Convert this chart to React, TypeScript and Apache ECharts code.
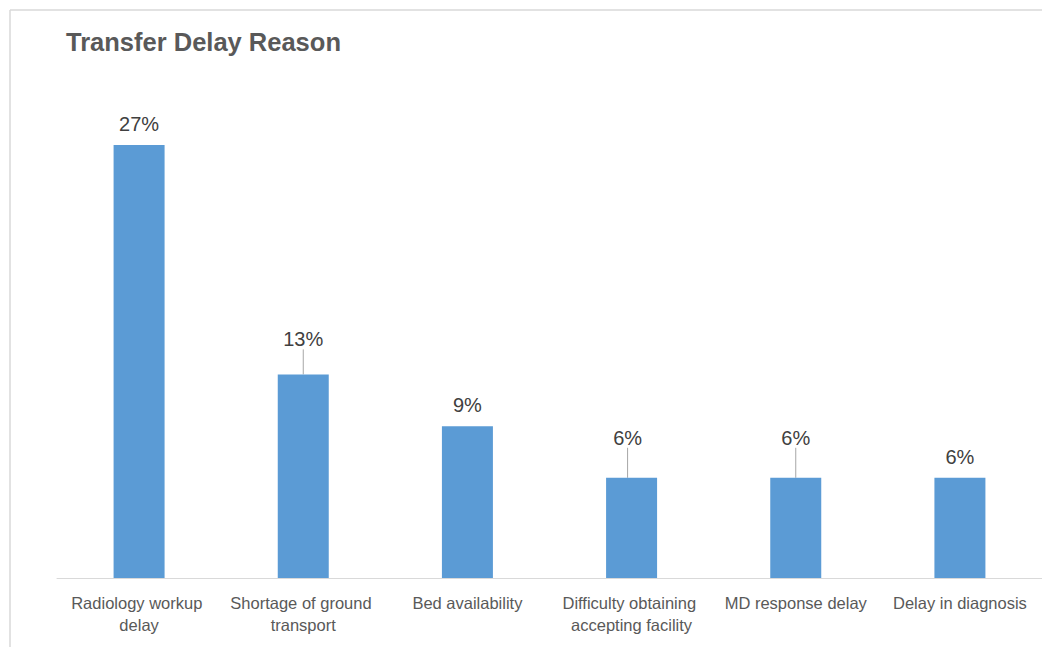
import React, { useEffect, useRef } from "react";
import * as echarts from "echarts";

const categories = [
  "Radiology workup delay",
  "Shortage of ground transport",
  "Bed availability",
  "Difficulty obtaining accepting facility",
  "MD response delay",
  "Delay in diagnosis",
];
const values = [27, 12.7, 9.46, 6.25, 6.25, 6.25];
const titleText = "Transfer Delay Reason";
// label shifts (Excel-style manually moved labels), in px
const labelShiftX = [0, 0, 0, -4, 0, 0];
const labelShiftY = [0, -14, 0, -19, -19, 0];

const FONT = "'Liberation Sans', Arial, sans-serif";

export default function App() {
  const ref = useRef<HTMLDivElement>(null);
  useEffect(() => {
    document.body.style.margin = "0";
    const chart = echarts.init(ref.current!, null, { renderer: "svg" });
    const seriesData = values.map((v, i) => ({
      value: v,
      labelLine: { show: labelShiftY[i] !== 0 },
    }));
    chart.setOption({
      animation: false,
      backgroundColor: "#ffffff",
      title: {
        text: titleText,
        left: 66,
        top: 29,
        padding: 0,
        textStyle: {
          fontFamily: FONT,
          fontSize: 25.5,
          fontWeight: "bold",
          color: "#595959",
        },
      },
      graphic: [
        {
          type: "line",
          shape: { x1: 10, y1: 10, x2: 1042, y2: 10 },
          style: { stroke: "#d9d9d9", lineWidth: 1.5 },
          silent: true,
        },
        {
          type: "line",
          shape: { x1: 10, y1: 10, x2: 10, y2: 647 },
          style: { stroke: "#d9d9d9", lineWidth: 1.5 },
          silent: true,
        },
      ],
      grid: { left: 57, top: 97, width: 987, height: 481 },
      xAxis: {
        type: "category",
        data: categories,
        axisLine: { show: true, lineStyle: { color: "#d9d9d9", width: 1 } },
        axisTick: { show: false },
        axisLabel: {
          interval: 0,
          margin: 14,
          fontFamily: FONT,
          fontSize: 16.5,
          color: "#595959",
          lineHeight: 22,
          width: 158,
          overflow: "break",
        },
      },
      yAxis: {
        type: "value",
        min: 0,
        max: 30,
        show: false,
        splitLine: { show: false },
      },
      series: [
        {
          type: "bar",
          data: seriesData,
          barWidth: 51,
          itemStyle: { color: "#5b9bd5" },
          label: {
            show: true,
            position: "top",
            distance: 11,
            fontFamily: FONT,
            fontSize: 20,
            color: "#404040",
            formatter: (p: any) => Math.round(p.value) + "%",
          },
          labelLine: {
            show: true,
            lineStyle: { color: "#a6a6a6", width: 1 },
          },
          labelLayout: (p: any) => ({
            dx: labelShiftX[p.dataIndex],
            dy: labelShiftY[p.dataIndex],
          }),
        },
      ],
    });
    return () => chart.dispose();
  }, []);
  return <div ref={ref} style={{ width: 1042, height: 647 }} />;
}
